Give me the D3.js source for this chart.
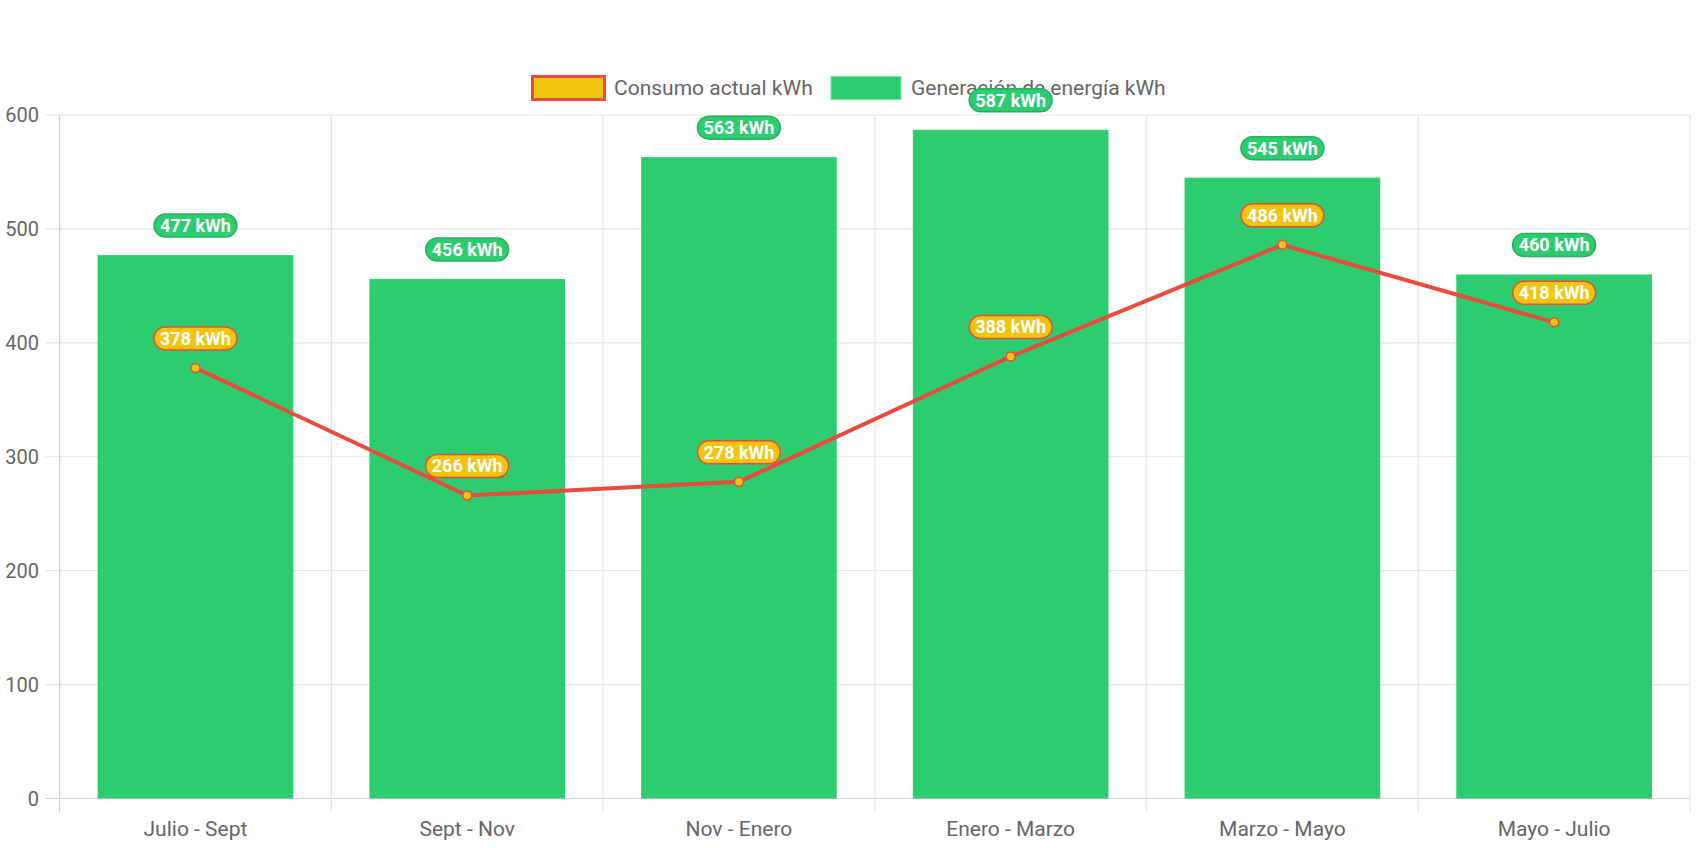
<!DOCTYPE html>
<html><head><meta charset="utf-8">
<script src="https://cdn.jsdelivr.net/npm/d3@7"></script>
<style>
html,body{margin:0;padding:0;background:#fff;}
svg{display:block;font-family:Roboto, "Noto Sans", sans-serif;}
</style></head>
<body>
<svg id="chart" width="1699" height="848"></svg>
<script>
const categories = ["Julio - Sept", "Sept - Nov", "Nov - Enero", "Enero - Marzo", "Marzo - Mayo", "Mayo - Julio"];
const generacion = [477, 456, 563, 587, 545, 460];
const consumo = [378, 266, 278, 388, 486, 418];
const yTicks = [0, 100, 200, 300, 400, 500, 600];
const seriesNames = ["Consumo actual kWh", "Generación de energía kWh"];

const W = 1699, H = 848;
const margin = {left: 59.6, right: 9, top: 115, bottom: 49.5};
const svg = d3.select("#chart");

const x = d3.scaleBand().domain(categories).range([margin.left, W - margin.right]).paddingInner(0).paddingOuter(0);
const y = d3.scaleLinear().domain([0, 600]).range([H - margin.bottom, margin.top]);

const gridColor = "#e5e5e5";
const axisColor = "#d0d0d0";
const textColor = "#666";

// horizontal gridlines
svg.append("g").selectAll("line").data(yTicks).join("line")
  .attr("x1", margin.left - 14).attr("x2", W - margin.right)
  .attr("y1", d => y(d)).attr("y2", d => y(d))
  .attr("stroke", d => d === 0 ? axisColor : gridColor).attr("stroke-width", 1.2);

// vertical gridlines at category boundaries
const bounds = categories.map(c => x(c)).concat([x(categories[categories.length-1]) + x.bandwidth()]);
svg.append("g").selectAll("line").data(bounds).join("line")
  .attr("x1", d => d).attr("x2", d => d)
  .attr("y1", margin.top).attr("y2", H - margin.bottom + 14)
  .attr("stroke", (d,i) => i === 0 ? axisColor : gridColor).attr("stroke-width", 1.2);

// y tick labels
svg.append("g").selectAll("text").data(yTicks).join("text")
  .attr("x", margin.left - 20.5).attr("y", d => y(d))
  .attr("dy", "0.35em").attr("text-anchor", "end")
  .attr("fill", textColor).attr("font-size", 20).text(d => d);

// x tick labels
svg.append("g").selectAll("text").data(categories).join("text")
  .attr("x", d => x(d) + x.bandwidth()/2).attr("y", H - margin.bottom + 30)
  .attr("dy", "0.35em").attr("text-anchor", "middle")
  .attr("fill", textColor).attr("font-size", 21).text(d => d);

// bars
const barW = x.bandwidth() * 0.72;
svg.append("g").selectAll("rect").data(generacion).join("rect")
  .attr("x", (d,i) => x(categories[i]) + (x.bandwidth() - barW)/2)
  .attr("width", barW)
  .attr("y", d => y(d)).attr("height", d => y(0) - y(d))
  .attr("fill", "#2ecc71");

// line
const cx = i => x(categories[i]) + x.bandwidth()/2;
const line = d3.line().x((d,i) => cx(i)).y(d => y(d));
svg.append("path").datum(consumo).attr("d", line)
  .attr("fill", "none").attr("stroke", "#e74c3c").attr("stroke-width", 4).attr("stroke-linejoin", "round");
svg.append("g").selectAll("circle").data(consumo).join("circle")
  .attr("cx", (d,i) => cx(i)).attr("cy", d => y(d)).attr("r", 4.5)
  .attr("fill", "#f1c40f").attr("stroke", "#e74c3c").attr("stroke-width", 1.5);

// legend
const lg = svg.append("g");
lg.append("rect").attr("x", 532.5).attr("y", 76.5).attr("width", 72).attr("height", 23)
  .attr("fill", "#f1c40f").attr("stroke", "#e74c3c").attr("stroke-width", 3);
lg.append("text").attr("x", 614).attr("y", 88).attr("dy", "0.35em").attr("font-size", 21)
  .attr("fill", textColor).text(seriesNames[0]);
lg.append("rect").attr("x", 831).attr("y", 76.5).attr("width", 70).attr("height", 23)
  .attr("fill", "#2ecc71").attr("stroke", "#7be3a6").attr("stroke-width", 1);
lg.append("text").attr("x", 911).attr("y", 88).attr("dy", "0.35em").attr("font-size", 21)
  .attr("fill", textColor).text(seriesNames[1]);

// data labels
function labels(data, fill, stroke, sw) {
  const g = svg.append("g").selectAll("g").data(data).join("g")
    .attr("transform", (d,i) => `translate(${cx(i)},${y(d) - 29.5})`);
  const t = g.append("text").attr("text-anchor", "middle").attr("dy", "0.36em")
    .attr("font-size", 18).attr("font-weight", "bold").attr("fill", "#fff")
    .text(d => d + " kWh");
  g.each(function() {
    const gg = d3.select(this);
    const bb = gg.select("text").node().getBBox();
    gg.insert("rect", "text")
      .attr("x", -bb.width/2 - 6).attr("y", -11.5).attr("width", bb.width + 12).attr("height", 23)
      .attr("rx", 11.5).attr("ry", 11.5)
      .attr("fill", fill).attr("stroke", stroke).attr("stroke-width", sw);
  });
}
labels(generacion, "#2ecc71", "#27ae60", 1.5);
labels(consumo, "#f1c40f", "#e74c3c", 1.5);
</script>
</body></html>
